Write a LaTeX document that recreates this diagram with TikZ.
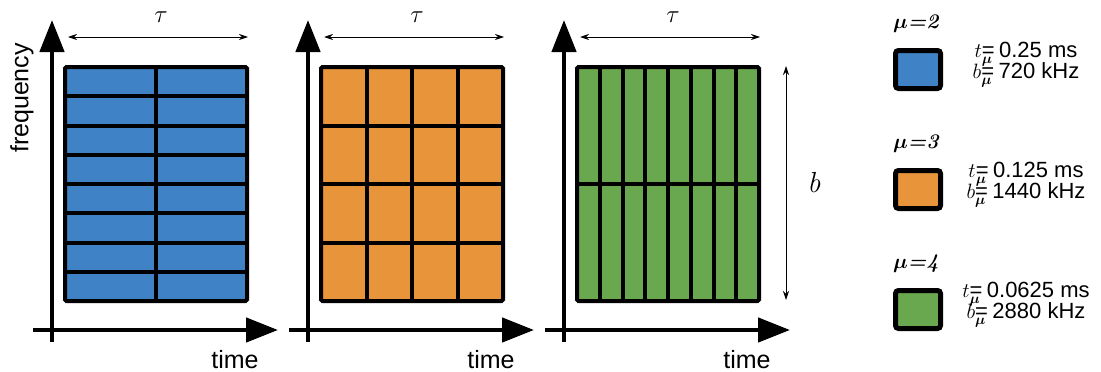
\documentclass[tikz,border=0pt]{standalone}
\usepackage{amsmath}
\usepackage{fontspec}
\newfontfamily\sansf{Liberation Sans}
\usetikzlibrary{arrows.meta}
\definecolor{cblue}{HTML}{3F83C6}
\definecolor{corange}{HTML}{E8943A}
\definecolor{cgreen}{HTML}{6AA84F}
\begin{document}
\begin{tikzpicture}[x=1pt,y=-1pt,
  axis/.style={line width=4.5pt,-{Triangle[length=32pt,width=24pt]}},
  dimarrow/.style={line width=0.8pt,{Stealth[length=9pt,width=6pt,inset=3pt]}-{Stealth[length=9pt,width=6pt,inset=3pt]}},
  gridline/.style={line width=4pt},
  lbl/.style={font=\sansf\fontsize{25}{28}\selectfont,inner sep=0pt},
  mathlbl/.style={inner sep=0pt},
  legbox/.style={draw,line width=5pt,rounded corners=3pt,minimum width=45pt,minimum height=38pt,inner sep=0pt},
  legtxt/.style={inner sep=0pt,anchor=base},
  mulbl/.style={inner sep=0pt,anchor=base west},
  ]
\useasboundingbox (0,0) rectangle (1101,372);

\foreach \k/\c/\nx/\ny in {0/cblue/2/8,1/corange/4/4,2/cgreen/8/2}{
  \pgfmathsetmacro\dx{256*\k}
  % grid
  \fill[\c] ({65+\dx},67) rectangle ({247+\dx},301);
  \pgfmathtruncatemacro\nxm{\nx-1}
  \pgfmathtruncatemacro\nym{\ny-1}
  \foreach \i in {1,...,\nxm}{
    \draw[gridline] ({65+\dx+\i*182/\nx},67) -- ({65+\dx+\i*182/\nx},301);
  }
  \foreach \j in {1,...,\nym}{
    \draw[gridline] ({65+\dx},{67+\j*234/\ny}) -- ({247+\dx},{67+\j*234/\ny});
  }
  \draw[gridline,rounded corners=1.5pt] ({65+\dx},67) rectangle ({247+\dx},301);
  % axes
  \coordinate (vb\k) at ({52+\dx},342);
  \coordinate (vt\k) at ({52+\dx},20);
  \coordinate (hl\k) at ({33+\dx},330);
  \coordinate (hr\k) at ({278+\dx},330);
  \draw[axis] (vb\k) -- (vt\k);
  \draw[axis] (hl\k) -- (hr\k);
  \node[lbl,anchor=base] (time\k) at ({235+\dx},368) {time};
  % tau
  \coordinate (ta\k) at ({68+\dx},37);
  \coordinate (tb\k) at ({248+\dx},37);
  \draw[dimarrow] (ta\k) -- (tb\k);
  \node[mathlbl,anchor=base] (tau\k) at ({161+\dx},23) {\fontsize{24.88}{27}\selectfont$\tau$};
}

\node[lbl,rotate=90] (freq) at (22,98) {frequency};

% b dimension
\coordinate (ba) at (786,66);
\coordinate (bb) at (786,300);
\draw[dimarrow] (ba) -- (bb);
\node[mathlbl,anchor=base] (blbl) at (814,192) {\fontsize{29}{31}\selectfont\itshape b};

% legend
\foreach \i/\c/\m/\tv/\bv in {0/cblue/2/0.25/720,1/corange/3/0.125/1440,2/cgreen/4/0.0625/2880}{
  \node[mulbl] (mu\i) at (893,{28+120*\i})
    {\fontsize{20.74}{23}\selectfont$\boldsymbol{\mu}$\textbf{\textit{=\m}}};
  \node[legbox,fill=\c] (lb\i) at (918,{69.5+120*\i}) {};
  \node[legtxt] (lt\i) at (1026,{57+120*\i})
    {\fontsize{22}{24}\selectfont$t$\rlap{\raisebox{-6pt}{$\scriptstyle\boldsymbol{\mu}$}}\sansf=\hspace{0.2em}\tv{} ms};
  \node[legtxt] (lbb\i) at (1026,{78+120*\i})
    {\fontsize{22}{24}\selectfont$b$\rlap{\raisebox{-6pt}{$\scriptstyle\boldsymbol{\mu}$}}\sansf=\hspace{0.2em}\bv{} kHz};
}
\end{tikzpicture}
\end{document}
